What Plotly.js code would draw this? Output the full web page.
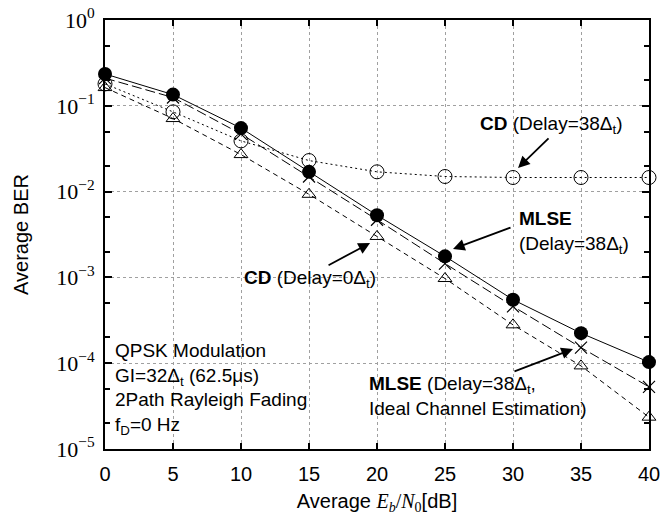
<!DOCTYPE html>
<html>
<head>
<meta charset="utf-8">
<script src="https://cdn.plot.ly/plotly-3.0.1.min.js"></script>
<style>html,body{margin:0;padding:0;background:#fff;}#chart{width:662px;height:519px;}</style>
</head>
<body>
<div id="chart"></div>
<script>
// Eb/N0 values [dB]
const ebn0 = [0, 5, 10, 15, 20, 25, 30, 35, 40];
// Average BER series
const berMLSE38 = [0.235, 0.135, 0.055, 0.017, 0.0053, 0.00176, 0.00055, 0.000224, 0.000103];
const berMLSEIdeal = [0.21, 0.125, 0.047, 0.015, 0.0047, 0.00145, 0.00046, 0.000152, 0.000053];
const berCD0 = [0.163, 0.071, 0.027, 0.0093, 0.003, 0.00097, 0.00028, 0.000093, 0.0000235];
const berCD38 = [0.18, 0.085, 0.039, 0.023, 0.017, 0.015, 0.0146, 0.0146, 0.0146];
// y tick labels
const yTickVals = [1, 0.1, 0.01, 0.001, 0.0001, 0.00001];
const yTickText = ['10<sup>0</sup>', '10<sup>\u22121</sup>', '10<sup>\u22122</sup>', '10<sup>\u22123</sup>', '10<sup>\u22124</sup>', '10<sup>\u22125</sup>'];

const sans = 'Liberation Sans, Arial, Helvetica, sans-serif';
const serif = 'Liberation Serif, Times New Roman, serif';

const traces = [
  {x: ebn0, y: berMLSE38, mode: 'lines+markers', name: 'MLSE (Delay=38Δt)',
   line: {color: '#000', width: 1}, marker: {symbol: 'circle', size: 14, color: '#000'}, cliponaxis: false},
  {x: ebn0, y: berMLSEIdeal, mode: 'lines+markers', name: 'MLSE ideal',
   line: {color: '#000', width: 1, dash: '10px,4px'}, marker: {symbol: 'x-thin-open', size: 12, color: '#000', line: {color: '#000', width: 1.2}}, cliponaxis: false},
  {x: ebn0, y: berCD0, mode: 'lines+markers', name: 'CD (Delay=0Δt)',
   line: {color: '#000', width: 1, dash: '5px,4px'}, marker: {symbol: 'triangle-up-open', size: 12, color: '#000', line: {color: '#000', width: 1}}, cliponaxis: false},
  {x: ebn0, y: berCD38, mode: 'lines+markers', name: 'CD (Delay=38Δt)',
   line: {color: '#000', width: 1, dash: '2px,3px'}, marker: {symbol: 'circle-open', size: 14, color: '#000', line: {color: '#000', width: 1}}, cliponaxis: false}
];

const afont = {family: sans, size: 19, color: '#000'};
function arrow(x, ylog, ax, ay) {
  return {x: x, y: ylog, xref: 'x', yref: 'y', ax: ax, ay: ay, text: '', showarrow: true,
    arrowhead: 2, arrowsize: 1.3, arrowwidth: 1.8, arrowcolor: '#000', standoff: 0, startstandoff: 0};
}
function label(x, ylog, text, align) {
  return {x: x, y: ylog, xref: 'x', yref: 'y', text: text, showarrow: false, xanchor: 'left', yanchor: 'middle',
    align: align || 'left', font: afont};
}

const annotations = [
  label(27.4, -1.22, '<b>CD</b> (Delay=38Δ<sub>t</sub>)'),
  arrow(30.37, -1.725, 32, -31),
  label(30.3, -2.48, '<b>MLSE</b><br>(Delay=38Δ<sub>t</sub>)'),
  arrow(25.59, -2.669, 59, -22),
  label(10.1, -3.02, '<b>CD</b> (Delay=0Δ<sub>t</sub>)'),
  arrow(19.49, -2.599, -43, 23),
  label(19.25, -4.38, '<b>MLSE</b> (Delay=38Δ<sub>t</sub>,<br>Ideal Channel Estimation)'),
  arrow(34.41, -3.834, -60, 23),
  label(0.6, -4.3, 'QPSK Modulation<br>GI=32Δ<sub>t</sub> (62.5μs)<br>2Path Rayleigh Fading<br>f<sub>D</sub>=0 Hz')
];

const xTitle = 'Average <span style="font-family:Liberation Serif"><i>E<sub>b</sub></i>/<i>N</i><sub>0</sub></span>[dB]';

const layout = {
  width: 662, height: 519,
  margin: {l: 105, r: 13, t: 20, b: 70},
  paper_bgcolor: '#fff', plot_bgcolor: '#fff',
  showlegend: false,
  font: {family: sans, size: 19, color: '#000'},
  xaxis: {
    range: [0, 40], dtick: 5, tick0: 0,
    showline: true, linecolor: '#000', linewidth: 2, mirror: 'allticks',
    ticks: 'inside', ticklen: 6, tickwidth: 1.5, tickcolor: '#000',
    showgrid: true, gridcolor: '#a0a0a0', griddash: 'dot', gridwidth: 1,
    zeroline: false,
    tickfont: {family: sans, size: 20, color: '#000'},
    ticklabelstandoff: 6,
    title: {text: xTitle, font: {family: sans, size: 20, color: '#000'}, standoff: 10}
  },
  yaxis: {
    type: 'log', range: [-5, 0],
    tickvals: yTickVals, ticktext: yTickText,
    showline: true, linecolor: '#000', linewidth: 2, mirror: 'allticks',
    ticks: 'inside', ticklen: 7, tickwidth: 1.5, tickcolor: '#000',
    minor: {ticks: 'inside', ticklen: 5, tickwidth: 1.5, tickcolor: '#000', dtick: 'D2', showgrid: false},
    showgrid: true, gridcolor: '#a0a0a0', griddash: 'dot', gridwidth: 1,
    zeroline: false,
    tickfont: {family: serif, size: 22, color: '#000'},
    ticklabelstandoff: 4,
    title: {text: 'Average BER', font: {family: sans, size: 20, color: '#000'}, standoff: 22}
  },
  annotations: annotations
};

Plotly.newPlot('chart', traces, layout, {displayModeBar: false});
</script>
</body>
</html>
